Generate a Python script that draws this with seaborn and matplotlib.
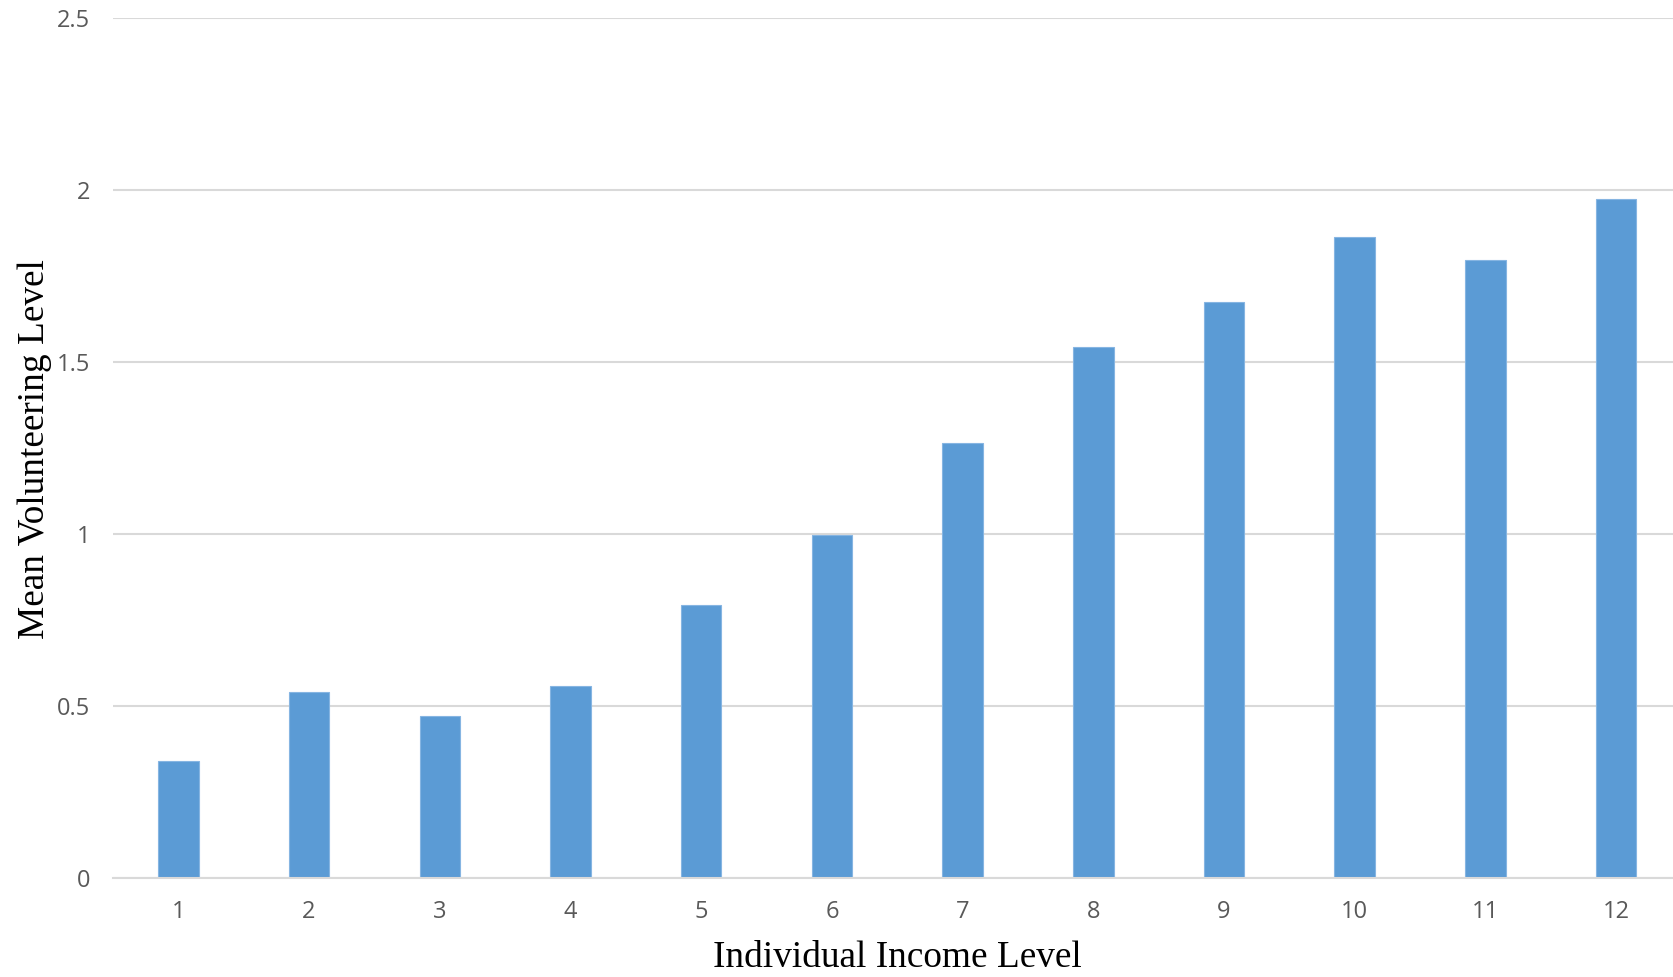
import matplotlib
matplotlib.use("Agg")
import matplotlib.pyplot as plt
import seaborn as sns
import pandas as pd

# Mean volunteering level by individual income level
income_levels = ["1", "2", "3", "4", "5", "6", "7", "8", "9", "10", "11", "12"]
mean_volunteering = [0.340, 0.540, 0.471, 0.559, 0.792, 0.997, 1.265, 1.544, 1.674, 1.862, 1.797, 1.973]
y_ticks = [0, 0.5, 1, 1.5, 2, 2.5]
y_tick_labels = ["0", "0.5", "1", "1.5", "2", "2.5"]

df = pd.DataFrame({"income": income_levels, "volunteering": mean_volunteering})

sns.set_theme(style="white")
plt.rcParams["font.family"] = ["Open Sans", "DejaVu Sans"]

fig = plt.figure(figsize=(16.74, 9.77), dpi=100)
ax = fig.add_axes([0.0675, 0.1013, 0.9370, 0.8806])

sns.barplot(data=df, x="income", y="volunteering", order=income_levels,
            color="#5b9bd5", saturation=1, width=0.31,
            edgecolor="#86b5e2", linewidth=0.8, ax=ax, zorder=3)

ax.set_xlim(-0.5, len(income_levels) - 0.5)
ax.set_ylim(0, 2.5)
ax.set_yticks(y_ticks)
ax.set_yticklabels(y_tick_labels)

ax.yaxis.grid(True, color="#d9d9d9", linewidth=1.5, zorder=0)
ax.xaxis.grid(False)
for side in ["top", "right", "left"]:
    ax.spines[side].set_visible(False)
ax.spines["bottom"].set_color("#d9d9d9")
ax.spines["bottom"].set_linewidth(1.5)
ax.spines["bottom"].set_zorder(4)

ax.tick_params(axis="both", length=0, labelsize=17, labelcolor="#595959")
ax.tick_params(axis="y", pad=16.5)
ax.tick_params(axis="x", pad=16)

ax.set_xlabel("")
ax.set_ylabel("")
fig.text(897 / 1674, 1 - 967 / 977, "Individual Income Level",
         family=["Liberation Serif", "DejaVu Serif"], fontsize=26.8,
         color="#000000", ha="center", va="baseline")
fig.text(35 / 1674, 1 - 449 / 977, "Mean Volunteering Level",
         family=["Liberation Serif", "DejaVu Serif"], fontsize=26.8,
         color="#000000", ha="center", va="center", rotation=90)

fig.savefig("out.png", dpi=100, facecolor="white")
